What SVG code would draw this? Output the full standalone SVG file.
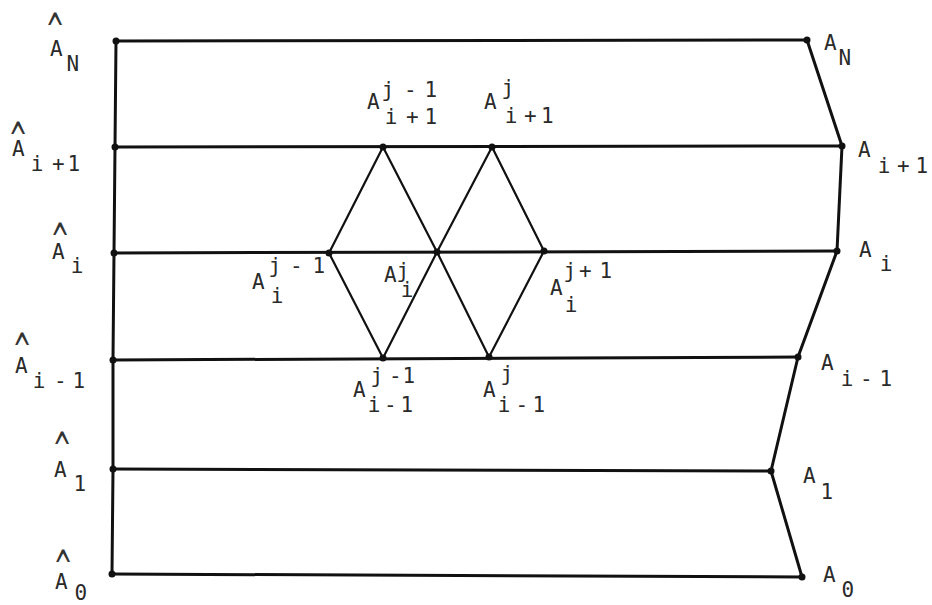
<svg xmlns="http://www.w3.org/2000/svg" width="932" height="605" viewBox="0 0 932 605">
<style>
.frame{stroke:#111;stroke-width:3;fill:none;stroke-linecap:round;stroke-linejoin:round}
.diag{stroke:#111;stroke-width:2.2;fill:none;stroke-linecap:round}
.dot{fill:#111}
text{font-family:"DejaVu Sans Mono","Liberation Mono",monospace;font-size:21px;fill:#2a2a2a}
.hat{font-size:26px;fill:#333}
</style>
<rect width="932" height="605" fill="#fff"/>
<g id="connectors">
<polyline class="frame" points="116,41 115,147 114,253 113,360 113,469 112,574"/>
<polyline class="frame" points="807,40 842,146 837,251 798,357 771,471 802,577"/>
<line class="frame" x1="116" y1="41" x2="807" y2="40"/>
<line class="frame" x1="115" y1="147" x2="842" y2="146"/>
<line class="frame" x1="114" y1="253" x2="837" y2="251"/>
<line class="frame" x1="113" y1="360" x2="798" y2="357"/>
<line class="frame" x1="113" y1="469" x2="771" y2="471"/>
<line class="frame" x1="112" y1="574" x2="802" y2="577"/>
<line class="diag" x1="329" y1="253" x2="383" y2="147"/>
<line class="diag" x1="383" y1="147" x2="437" y2="252"/>
<line class="diag" x1="437" y1="252" x2="492" y2="147"/>
<line class="diag" x1="492" y1="147" x2="544" y2="251"/>
<line class="diag" x1="329" y1="253" x2="383" y2="358"/>
<line class="diag" x1="383" y1="358" x2="437" y2="252"/>
<line class="diag" x1="437" y1="252" x2="489" y2="357"/>
<line class="diag" x1="489" y1="357" x2="544" y2="251"/>
</g>
<g id="hatAN"><circle class="dot" cx="116" cy="41" r="3.5"/><text class="hat" transform="translate(55,45.8) scale(1,1.8)" text-anchor="middle">^</text><text x="50" y="56">A</text><text x="66.5" y="71">N</text></g>
<g id="hatAi1"><circle class="dot" cx="115" cy="147" r="3.5"/><text class="hat" transform="translate(18,154.8) scale(1,1.8)" text-anchor="middle">^</text><text x="12" y="156">A</text><text x="30.7 52 67.5" y="171">i+1</text></g>
<g id="hatAi"><circle class="dot" cx="114" cy="253" r="3.5"/><text class="hat" transform="translate(60,255.8) scale(1,1.8)" text-anchor="middle">^</text><text x="52" y="259">A</text><text x="70.7" y="273">i</text></g>
<g id="hatAim1"><circle class="dot" cx="113" cy="360" r="3.5"/><text class="hat" transform="translate(22,365.8) scale(1,1.8)" text-anchor="middle">^</text><text x="15" y="373">A</text><text x="32.7 54 72.5" y="388">i-1</text></g>
<g id="hatA1"><circle class="dot" cx="113" cy="469" r="3.5"/><text class="hat" transform="translate(62,464.8) scale(1,1.8)" text-anchor="middle">^</text><text x="54" y="477">A</text><text x="73.5" y="491">1</text></g>
<g id="hatA0"><circle class="dot" cx="112" cy="574" r="3.5"/><text class="hat" transform="translate(63,582.8) scale(1,1.8)" text-anchor="middle">^</text><text x="55" y="589">A</text><text x="74.5" y="600">0</text></g>
<g id="AN"><circle class="dot" cx="807" cy="40" r="3.5"/><text x="824" y="50">A</text><text x="838.5" y="65">N</text></g>
<g id="Ai1"><circle class="dot" cx="842" cy="146" r="3.5"/><text x="858" y="157">A</text><text x="877.7 897 915.5" y="173">i+1</text></g>
<g id="Ai"><circle class="dot" cx="837" cy="251" r="3.5"/><text x="859" y="257">A</text><text x="879.7" y="271">i</text></g>
<g id="Aim1"><circle class="dot" cx="798" cy="357" r="3.5"/><text x="821" y="370">A</text><text x="840.7 860 879.5" y="386">i-1</text></g>
<g id="A1"><circle class="dot" cx="771" cy="471" r="3.5"/><text x="803" y="483">A</text><text x="820.5" y="499">1</text></g>
<g id="A0"><circle class="dot" cx="802" cy="577" r="3.5"/><text x="823" y="582">A</text><text x="841.5" y="597">0</text></g>
<g id="Ai1jm1"><circle class="dot" cx="383" cy="147" r="3.5"/><text x="367" y="109">A</text><text x="381.5 404 424.5" y="97">j-1</text><text x="384.7 406 424.5" y="124">i+1</text></g>
<g id="Ai1j"><circle class="dot" cx="492" cy="147" r="3.5"/><text x="484" y="109">A</text><text x="501.5" y="95">j</text><text x="504.7 524 541" y="123">i+1</text></g>
<g id="Aijm1"><circle class="dot" cx="329" cy="253" r="3.5"/><text x="252" y="289">A</text><text x="268.5 290 312.5" y="273">j-1</text><text x="270.7" y="303">i</text></g>
<g id="Aij"><circle class="dot" cx="437" cy="252" r="3.5"/><text x="384" y="282">A</text><text x="396.5" y="278">j</text><text x="400.7" y="297">i</text></g>
<g id="Aijp1"><circle class="dot" cx="544" cy="251" r="3.5"/><text x="550" y="295">A</text><text x="563.5 579 599.5" y="278">j+1</text><text x="564.7" y="312">i</text></g>
<g id="Aim1jm1"><circle class="dot" cx="383" cy="358" r="3.5"/><text x="353" y="397">A</text><text x="370.5 389 402.5" y="383">j-1</text><text x="367.7 384 400.5" y="412">i-1</text></g>
<g id="Aim1j"><circle class="dot" cx="489" cy="357" r="3.5"/><text x="483" y="397">A</text><text x="500.5" y="381">j</text><text x="497.7 515.5 532.5" y="412">i-1</text></g>
</svg>
